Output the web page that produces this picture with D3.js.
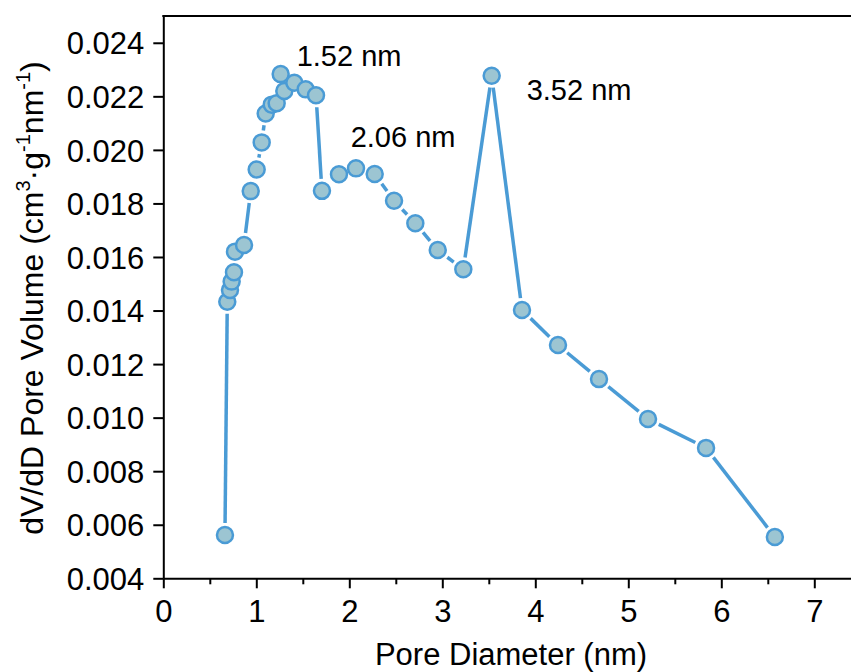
<!DOCTYPE html>
<html>
<head>
<meta charset="utf-8">
<script src="https://cdn.jsdelivr.net/npm/d3@7"></script>
<style>
	html, body { margin: 0; padding: 0; background: #fff; }
	svg { display: block; font-family: "Liberation Sans", Arial, sans-serif; }
</style>
</head>
<body>
<div id="chart"></div>
<script>
"use strict";

const width = 851, height = 672;

//---- Data
const poreDiameter = [
	0.663, 0.688, 0.717, 0.735, 0.760, 0.771, 0.868, 0.940, 1.004, 1.058,
	1.101, 1.166, 1.219, 1.262, 1.301, 1.409, 1.531, 1.642, 1.706, 1.889,
	2.072, 2.273, 2.481, 2.710, 2.951, 3.226, 3.531, 3.857, 4.244, 4.685,
	5.212, 5.836, 6.576
];
const poreVolume = [
	0.00562, 0.01433, 0.01477, 0.01508, 0.01543, 0.01620, 0.01645, 0.01846, 0.01927, 0.02028,
	0.02136, 0.02169, 0.02174, 0.02283, 0.02220, 0.02251, 0.02226, 0.02204, 0.01847, 0.01909,
	0.01931, 0.01910, 0.01810, 0.01726, 0.01626, 0.01554, 0.02277, 0.01402, 0.01271, 0.01144,
	0.00995, 0.00887, 0.00554
];

const peakText = ['1.52 nm', '2.06 nm', '3.52 nm'];
const peakTextX = [1.434, 2.015, 3.907];
const peakTextY = [0.02313, 0.02009, 0.02186];

const xTicks = [0, 1, 2, 3, 4, 5, 6, 7];
const xMinorTicks = [0.5, 1.5, 2.5, 3.5, 4.5, 5.5, 6.5];
const yTicks = [0.004, 0.006, 0.008, 0.010, 0.012, 0.014, 0.016, 0.018, 0.020, 0.022, 0.024];

//---- Layout
const plotLeft = 163.3, plotRight = 851.5, plotTop = 16, plotBottom = 578.3;
const lineColor = '#4a9bd5', dotFill = '#9cc5d2';
const dotRadius = 8, lineGap = 12;

let x = d3.scaleLinear().domain([0, 7.4]).range([plotLeft, plotRight]);
let y = d3.scaleLinear().domain([0.004, 0.025]).range([plotBottom, plotTop]);

let svg = d3.select('#chart').append('svg')
	.attr('width', width)
	.attr('height', height)
	.attr('viewBox', [0, 0, width, height]);

//---- Axes
let xAxis = svg.append('g')
	.attr('transform', `translate(0,${plotBottom})`)
	.call(d3.axisBottom(x).tickValues(xTicks).tickFormat(d3.format('d')).tickSize(10).tickSizeOuter(0));

svg.append('g')
	.attr('transform', `translate(0,${plotBottom})`)
	.call(d3.axisBottom(x).tickValues(xMinorTicks).tickFormat('').tickSize(6).tickSizeOuter(0))
	.call(g => g.select('.domain').remove());

let yAxis = svg.append('g')
	.attr('transform', `translate(${plotLeft},0)`)
	.call(d3.axisLeft(y).tickValues(yTicks).tickFormat(d3.format('.3f')).tickSize(10).tickSizeOuter(0));

svg.selectAll('.tick line, .domain')
	.attr('stroke', '#000')
	.attr('stroke-width', 2);

xAxis.selectAll('.tick text')
	.attr('y', 44)
	.attr('dy', null)
	.attr('font-size', 31)
	.attr('font-family', null)
	.attr('fill', '#000');

yAxis.selectAll('.tick text')
	.attr('x', -19)
	.attr('dy', '0.36em')
	.attr('font-size', 31)
	.attr('font-family', null)
	.attr('fill', '#000');

// top frame line
svg.append('line')
	.attr('x1', plotLeft - 1).attr('x2', plotRight)
	.attr('y1', plotTop).attr('y2', plotTop)
	.attr('stroke', '#000')
	.attr('stroke-width', 2);

//---- Axis titles
svg.append('text')
	.attr('x', 511)
	.attr('y', 665)
	.attr('text-anchor', 'middle')
	.attr('font-size', 31)
	.text('Pore Diameter (nm)');

let yTitle = svg.append('text')
	.attr('transform', 'translate(43,298) rotate(-90)')
	.attr('text-anchor', 'middle')
	.attr('font-size', 32);
yTitle.append('tspan').text('dV/dD Pore Volume (cm');
yTitle.append('tspan').attr('font-size', 20).attr('baseline-shift', '0.65em').text('3');
yTitle.append('tspan').text('·g');
yTitle.append('tspan').attr('font-size', 20).attr('baseline-shift', '0.65em').text('-1');
yTitle.append('tspan').text('nm');
yTitle.append('tspan').attr('font-size', 20).attr('baseline-shift', '0.65em').text('-1');
yTitle.append('tspan').text(')');

//---- Series: line segments stop short of the symbols
let points = poreDiameter.map((d, i) => ({ px: x(d), py: y(poreVolume[i]) }));
let segments = [];
for (let i = 0; i < points.length - 1; i++)
{
	let a = points[i], b = points[i + 1];
	let dx = b.px - a.px, dy = b.py - a.py;
	let len = Math.hypot(dx, dy);
	if (len <= 2 * lineGap) continue;
	let ux = dx / len, uy = dy / len;
	segments.push({
		x1: a.px + ux * lineGap, y1: a.py + uy * lineGap,
		x2: b.px - ux * lineGap, y2: b.py - uy * lineGap
	});
}

svg.selectAll('.seg')
	.data(segments)
	.join('line')
	.classed('seg', true)
	.attr('x1', s => s.x1).attr('y1', s => s.y1)
	.attr('x2', s => s.x2).attr('y2', s => s.y2)
	.attr('stroke', lineColor)
	.attr('stroke-width', 3.5);

svg.selectAll('.dot')
	.data(points)
	.join('circle')
	.classed('dot', true)
	.attr('cx', p => p.px)
	.attr('cy', p => p.py)
	.attr('r', dotRadius)
	.attr('fill', dotFill)
	.attr('stroke', lineColor)
	.attr('stroke-width', 2.5);

//---- Peak labels
svg.selectAll('.peak')
	.data(peakText)
	.join('text')
	.classed('peak', true)
	.attr('x', (t, i) => x(peakTextX[i]))
	.attr('y', (t, i) => y(peakTextY[i]))
	.attr('font-size', 29)
	.attr('fill', '#000')
	.text(t => t);
</script>
</body>
</html>
